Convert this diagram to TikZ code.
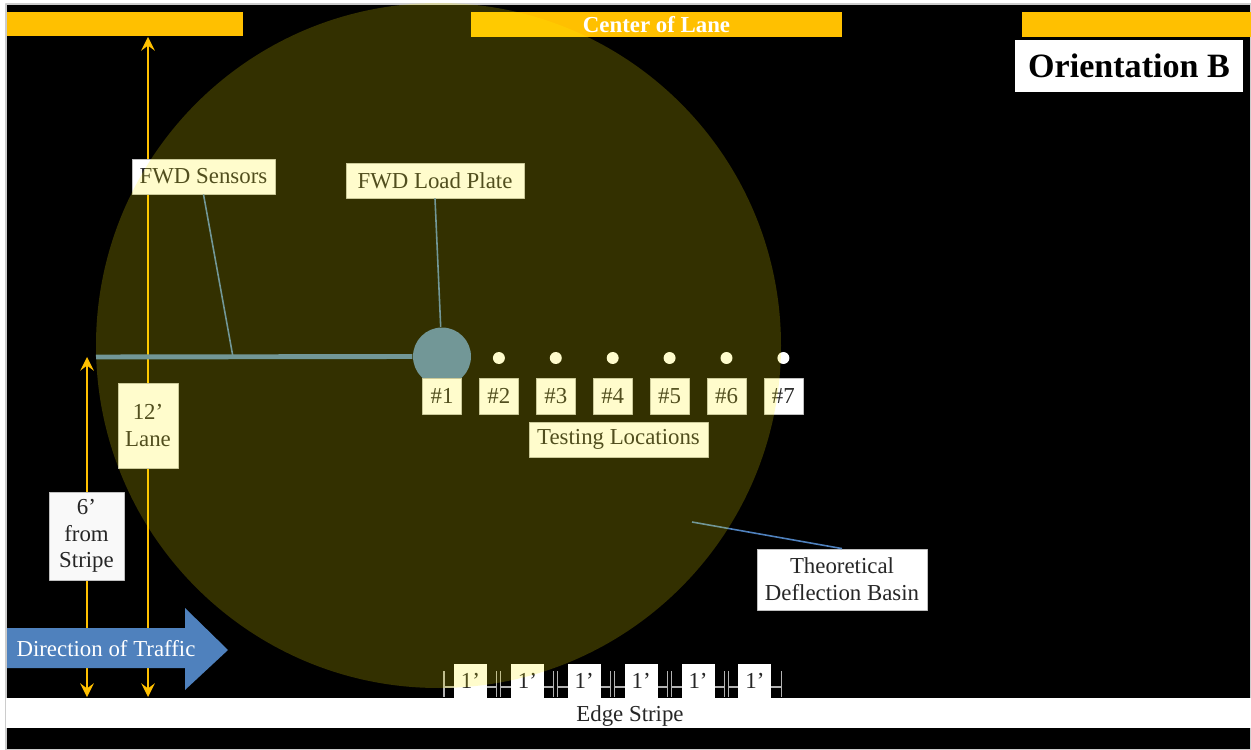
\documentclass[tikz,border=0pt]{standalone}
\usepackage{fontspec}
\setmainfont{Liberation Serif}
\definecolor{lanegold}{HTML}{FFC000}
\definecolor{fwdblue}{HTML}{4F81BD}
\newcommand\labfont{\fontsize{6.5}{7.6}\selectfont}
\begin{document}
\begin{tikzpicture}[x=0.1mm, y=-0.1mm, font=\labfont, line join=round, >=stealth,
  tag/.style={fill=white, draw=gray!50, line width=0.2pt, text=black!85, inner sep=0pt, align=center},
  foot/.style={fill=white, text=black!85, inner sep=0pt, minimum width=9.4pt, minimum height=9.7pt},
  dot/.style={circle, fill=white, inner sep=0pt, minimum size=3.4pt},
  lanearrow/.style={<->, draw=lanegold, line width=0.7pt},
  lead/.style={draw=fwdblue, line width=0.45pt},
  tick/.style={draw=gray!60, line width=0.3pt}]
\def\dx{56.9}  % spacing of testing locations
\def\ytag{396}
% --- Frame ---
\useasboundingbox (0,0) rectangle (1251,750);
\fill[white] (0,0) rectangle (1251,750);
\fill[black, draw=gray!40, line width=0.3pt] (6,4) rectangle (1251,750);
% --- Lane stripes ---
\fill[lanegold] (7,12) rectangle (243,36);
\fill[lanegold] (1022,12) rectangle (1251,37);
\node[fill=lanegold, text=white, font=\labfont\bfseries, inner sep=0pt,
  minimum width=105.6pt, minimum height=7.1pt] (center) at (656.5,24.5) {Center of Lane};
\node[fill=white, font=\fontsize{9.7}{11}\selectfont\bfseries, inner sep=0pt,
  minimum width=64.9pt, minimum height=14.8pt] (orient) at (1129,66) {Orientation B};
% --- Lane dimensions ---
\coordinate (lanetop) at (148,37);
\coordinate (lanebot) at (148,697);
\coordinate (sixtop) at (87,357);
\coordinate (sixbot) at (87,697);
\draw[lanearrow] (lanetop) -- (lanebot);
\draw[lanearrow] (sixtop) -- (sixbot);
\node[tag, minimum width=17.1pt, minimum height=24.2pt] (lane) at (148,425.5) {12'\\Lane};
\node[tag, fill=gray!5, minimum width=21.3pt, minimum height=25pt] (six) at (86.5,536) {6'\\from\\Stripe};
% --- FWD sensors and load plate ---
\coordinate (sensend) at (96,357);
\coordinate (sensmid) at (233,357);
\node[circle, fill=fwdblue, inner sep=0pt, minimum size=16.5pt] (plate) at (442,356.5) {};
\draw[fwdblue, line width=1.4pt] (sensend) -- (plate.west);
\node[tag, minimum width=40.7pt, minimum height=10pt] (sens) at (203.5,176.5) {FWD Sensors};
\node[tag, minimum width=50.6pt, minimum height=10pt] (lp) at (435,180.5) {FWD Load Plate};
\draw[lead] (sens.south) -- (sensmid);
\draw[lead] (lp.south) -- (plate);
% --- Testing locations ---
\foreach \k in {2,...,7}
  \node[dot] (dot\k) at ({442+(\k-1)*\dx},358) {};
\foreach \k in {1,...,7}
  \node[tag, minimum width=11.1pt, minimum height=10.2pt] (loc\k) at ({442+(\k-1)*\dx},\ytag) {\#\k};
\node[tag, minimum width=50.9pt, minimum height=10pt] (test) at (618.5,439.5) {Testing Locations};
% --- Deflection basin label ---
\coordinate (basinpt) at (692,522);
\node[tag, minimum width=48.4pt, minimum height=17.4pt] (basin) at (842,579.5) {Theoretical\\Deflection Basin};
\draw[lead] (basin.north) -- (basinpt);
% --- Direction of traffic ---
\fill[fwdblue] (7,628) -- (185,628) -- (185,608) -- (228,650) -- (185,690) -- (185,668) -- (7,668) -- cycle;
\node[text=white] (traffic) at (106,649) {Direction of Traffic};
% --- 1 ft spacing and edge stripe ---
\foreach \k in {1,...,6} {
  \pgfmathsetmacro\xa{442+(\k-1)*\dx+2}
  \pgfmathsetmacro\xb{442+\k*\dx-2}
  \draw[tick] (\xa,671) -- (\xa,697) (\xa,687) -- (\xb,687) (\xb,671) -- (\xb,697);
  \node[foot] (ft\k) at ({(\xa+\xb)/2},681) {1'};
}
\fill[white] (6,698) rectangle (1251,728);
\node[text=black!85, inner sep=0pt] (edge) at (630,716) {Edge Stripe};
% --- Deflection basin (translucent) ---
\fill[yellow, fill opacity=0.2] (438.5,345.5) circle[radius=342.5];
\end{tikzpicture}
\end{document}
